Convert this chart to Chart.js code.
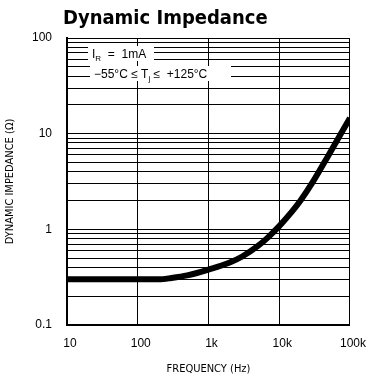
<!DOCTYPE html>
<html>
<head>
<meta charset="utf-8">
<script src="https://cdn.jsdelivr.net/npm/chart.js@4.4.0/dist/chart.umd.min.js"></script>
<style>
    html, body { margin: 0; padding: 0; background: white; }
    #box { width: 374px; height: 380px; position: relative; }
</style>
</head>
<body>
<div id="box"><canvas id="chart_impedancia"></canvas></div>
<script>
// dados
var frequencias = [10, 100, 200, 300, 500, 1000, 2000, 3000, 5000, 7000, 10000, 15000, 20000, 30000, 50000, 100000];
var impedancias = [0.3, 0.3, 0.3, 0.31, 0.33, 0.38, 0.45, 0.52, 0.67, 0.83, 1.08, 1.52, 2.0, 3.15, 6.0, 14.6];

var ticks_x = [10, 100, 1000, 10000, 100000];
var nomes_x = ['10', '100', '1k', '10k', '100k'];
var ticks_y = [0.1, 0.2, 0.3, 0.4, 0.5, 0.6, 0.7, 0.8, 0.9,
               1, 2, 3, 4, 5, 6, 7, 8, 9,
               10, 20, 30, 40, 50, 60, 70, 80, 90, 100];
var nomes_y = { 0.1: '0.1', 1: '1', 10: '10', 100: '100' };

var fonte = "'DejaVu Sans Condensed', 'Liberation Sans Narrow', 'Liberation Sans', sans-serif";
var fonte_normal = "'Liberation Sans', Arial, sans-serif";

// escreve partes de texto em sequencia (normal e subscrito)
function escrever(ctx, partes, x, y) {
    partes.forEach(function (p) {
        ctx.font = p.sub ? "8px " + fonte_normal : "12px " + fonte_normal;
        ctx.fillText(p.t, x, p.sub ? y + 3 : y);
        x += ctx.measureText(p.t).width;
    });
    return x;
}

// textos de cima (titulo e condicoes)
var textos = {
    id: 'textos',
    afterDraw: function (chart) {
        var ctx = chart.ctx;
        ctx.save();
        ctx.fillStyle = 'black';
        ctx.textBaseline = 'alphabetic';
        ctx.font = "bold 20px " + fonte;
        ctx.fillText('Dynamic Impedance', 63, 24);

        // I_R = 1mA
        ctx.fillStyle = 'white';
        ctx.fillRect(88, 46, 66, 15);
        ctx.fillStyle = 'black';
        escrever(ctx, [{ t: 'I' }, { t: 'R', sub: true }, { t: '  =  1mA' }], 92, 58);

        // faixa de temperatura
        ctx.fillStyle = 'white';
        ctx.fillRect(90, 66, 141, 15);
        ctx.fillStyle = 'black';
        escrever(ctx, [{ t: '\u221255\u00B0C \u2264 T' }, { t: 'j', sub: true }, { t: ' \u2264  +125\u00B0C' }], 94, 78);
        ctx.restore();
    }
};

new Chart(document.getElementById('chart_impedancia'), {
    type: 'line',
    data: {
        datasets: [{
            data: frequencias.map(function (f, i) { return { x: f, y: impedancias[i] }; }),
            borderColor: 'black',
            borderWidth: 6,
            pointRadius: 0,
            cubicInterpolationMode: 'monotone',
            fill: false
        }]
    },
    options: {
        responsive: true,
        maintainAspectRatio: false,
        animation: false,
        layout: {
            padding: { top: 38, right: 17, left: 0, bottom: 0 }
        },
        plugins: {
            legend: { display: false },
            tooltip: { enabled: false }
        },
        scales: {
            x: {
                type: 'logarithmic',
                min: 10,
                max: 100000,
                afterBuildTicks: function (s) {
                    s.ticks = ticks_x.map(function (v) { return { value: v }; });
                },
                afterFit: function (s) { s.height = 55; },
                ticks: {
                    color: 'black',
                    padding: 11,
                    labelOffset: 3,
                    maxRotation: 0,
                    font: { family: fonte_normal, size: 12 },
                    callback: function (v, i) { return nomes_x[i]; }
                },
                grid: {
                    color: 'black',
                    lineWidth: 1,
                    drawTicks: false
                },
                border: { color: 'black', width: 2 },
                title: {
                    display: true,
                    text: 'FREQUENCY (Hz)',
                    color: 'black',
                    font: { family: fonte, size: 11 },
                    padding: { top: 2 }
                }
            },
            y: {
                type: 'logarithmic',
                min: 0.1,
                max: 100,
                afterBuildTicks: function (s) {
                    s.ticks = ticks_y.map(function (v) { return { value: v }; });
                },
                afterFit: function (s) { s.width = 67; },
                ticks: {
                    color: 'black',
                    padding: 15,
                    autoSkip: false,
                    font: { family: fonte_normal, size: 12 },
                    callback: function (v) { return nomes_y[v] || ''; }
                },
                grid: {
                    color: 'black',
                    lineWidth: 1,
                    drawTicks: false
                },
                border: { color: 'black', width: 2 },
                title: {
                    display: true,
                    text: 'DYNAMIC IMPEDANCE (\u03A9)',
                    color: 'black',
                    font: { family: fonte, size: 11 },
                    padding: { bottom: 0 }
                }
            }
        }
    },
    plugins: [textos]
});
</script>
</body>
</html>
